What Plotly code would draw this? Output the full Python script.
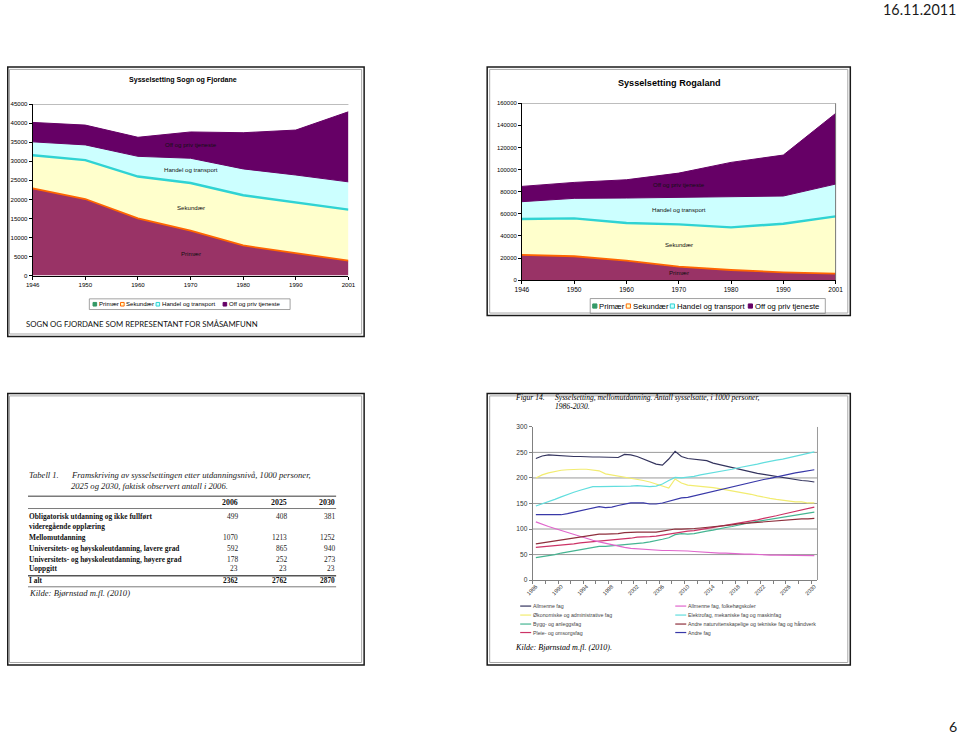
import plotly.graph_objects as go

W, H = 959, 735
# measured mapping of the photographed page: shown = offset + scale * page pixel
SX, OX = 0.984, 7.0
SY, OY = 0.992, 3.0


def fx(p):
    v = ((p - OX) / SX) / W
    return min(max(v, 0.0008), 0.9992)


def fy(p):
    v = 1 - ((p - OY) / SY) / H
    return min(max(v, 0.001), 0.999)


# ---------------- data ----------------
years_sf = ["1946", "1950", "1960", "1970", "1980", "1990", "2001"]

sf_primaer = [22900, 20100, 15000, 11800, 7900, 5900, 3900]
sf_sekundaer = [8700, 10200, 11000, 12500, 13200, 13300, 13400]
sf_handel = [3500, 4000, 5300, 6500, 6900, 7200, 7300]
sf_off = [5100, 5200, 5000, 6900, 9500, 11800, 18400]

ro_primaer = [22900, 21700, 17700, 12300, 9300, 7200, 6000]
ro_sekundaer = [32400, 34200, 34000, 38200, 38500, 43900, 51700]
ro_handel = [15700, 18100, 22600, 24400, 28300, 25000, 29200]
ro_off = [13800, 14400, 16500, 21900, 30400, 37000, 63800]

years_br = [str(y) for y in range(1986, 2031)]
br_allmenne = [238, 243, 245, 244, 243, 243, 242, 242, 241, 241, 241, 241, 240, 240, 246,
               245, 242, 237, 232, 227, 225, 237, 252, 242, 238, 237, 236, 234, 229, 226,
               223, 221, 218, 214, 211, 209, 207, 205, 202, 200, 198, 197, 195, 194, 192]
br_okonomi = [200, 206, 210, 213, 215, 216, 217, 217, 217, 216, 214, 208, 206, 203, 201,
              199, 197, 195, 192, 188, 183, 180, 198, 190, 186, 185, 184, 183, 181, 179,
              177, 175, 173, 170, 168, 165, 162, 160, 158, 156, 155, 153, 153, 151, 151]
br_bygg = [44, 46, 47, 50, 53, 55, 58, 60, 62, 64, 66, 66, 67, 68, 70,
           71, 72, 73, 75, 77, 80, 83, 89, 91, 90, 91, 94, 96, 98, 101,
           103, 105, 108, 110, 113, 115, 117, 119, 121, 123, 125, 127, 129, 131, 133]
br_pleie = [64, 65, 66, 68, 69, 70, 71, 73, 74, 75, 76, 77, 78, 79, 80,
            82, 84, 84, 85, 86, 88, 91, 93, 94, 96, 97, 99, 101, 103, 105,
            107, 109, 111, 114, 116, 118, 121, 123, 126, 129, 132, 134, 138, 140, 143]
br_folkehog = [114, 109, 105, 101, 97, 94, 90, 86, 82, 78, 75, 72, 69, 66, 64,
               62, 61, 60, 59, 58, 58, 58, 58, 57, 57, 56, 55, 55, 54, 53,
               53, 52, 51, 51, 51, 50, 50, 49, 49, 49, 49, 49, 49, 48, 48]
br_elektro = [145, 149, 154, 158, 163, 168, 172, 176, 180, 183, 183, 183, 183, 183, 184,
              184, 185, 184, 183, 184, 188, 195, 201, 200, 201, 203, 206, 208, 210, 212,
              214, 217, 220, 222, 225, 227, 230, 233, 235, 237, 240, 242, 246, 248, 251]
br_naturvit = [71, 73, 75, 77, 79, 81, 83, 85, 86, 88, 90, 90, 90, 91, 93,
               94, 94, 94, 94, 94, 96, 98, 100, 100, 100, 101, 102, 103, 105, 106,
               107, 108, 110, 111, 112, 114, 114, 116, 116, 118, 118, 119, 120, 120, 121]
br_andre = [128, 128, 128, 127, 128, 130, 133, 135, 138, 142, 144, 142, 143, 146, 149,
            151, 151, 151, 149, 149, 151, 154, 158, 161, 162, 165, 168, 171, 173, 177,
            180, 183, 186, 188, 191, 194, 197, 199, 202, 205, 207, 210, 212, 214, 216]

tab_cols = ["2006", "2025", "2030"]
tab_labels = ["Obligatorisk utdanning og ikke fullført<br>videregående opplæring",
              "Mellomutdanning",
              "Universitets- og høyskoleutdanning, lavere grad",
              "Universitets- og høyskoleutdanning, høyere grad",
              "Uoppgitt"]
tab_2006 = [499, 1070, 592, 178, 23]
tab_2025 = [408, 1213, 865, 252, 23]
tab_2030 = [381, 1252, 940, 273, 23]
tab_total = [2362, 2762, 2870]

SANS = "Liberation Sans, Arial, sans-serif"
SERIF = "Liberation Serif, Times New Roman, serif"
LATO = "Lato, Noto Sans, sans-serif"
FS = 1.012  # font compensation for the page scaling

fig = go.Figure()
shapes = []
ann = []


def text(x, y, s, size, family=SANS, color="#000000", xanchor="left", yanchor="middle"):
    ann.append(dict(x=fx(x), y=fy(y), xref="paper", yref="paper", text=s, showarrow=False,
                    font=dict(size=size * FS, family=family, color=color),
                    align=xanchor if xanchor != "center" else "center",
                    xanchor=xanchor, yanchor=yanchor, borderpad=0))


def hline(x0, x1, y, color, width):
    shapes.append(dict(type="line", xref="paper", yref="paper", x0=fx(x0), x1=fx(x1),
                       y0=fy(y), y1=fy(y), line=dict(color=color, width=width)))


def rect(x0, y0, x1, y1, color, width, fill=None):
    d = dict(type="rect", xref="paper", yref="paper", x0=fx(x0), x1=fx(x1),
             y0=fy(y1), y1=fy(y0), line=dict(color=color, width=width))
    if fill is not None:
        d["fillcolor"] = fill
    shapes.append(d)


# ---------------- panel frames ----------------
for (x0, y0, x1, y1) in [(2, 66, 364, 336), (487, 66, 850, 315),
                         (2, 393, 364, 665), (487, 393, 850, 665)]:
    rect(x0, y0, x1, y1, "#1a1a1a", 1.5)
    rect(max(x0 + 2.5, 9.5), y0 + 2.5, x1 - 2.5, y1 - 2.5, "#a8a8a8", 1)

# ---------------- stacked area charts ----------------
FILL_P, FILL_S, FILL_H, FILL_O = "#993366", "#FFFFCC", "#CCFFFF", "#660066"
LINE_ORANGE, LINE_CYAN = "#FF6600", "#2FD3D3"


def add_stack(series, group, xa, ya):
    for name, vals, fill, lc, lw in series:
        fig.add_trace(go.Scatter(x=years_sf, y=vals, name=name, stackgroup=group, mode="lines",
                                 fillcolor=fill, line=dict(color=lc, width=lw),
                                 xaxis=xa, yaxis=ya, showlegend=False, hoverinfo="skip"))


add_stack([("Primær", sf_primaer, FILL_P, LINE_ORANGE, 1.8),
           ("Sekundær", sf_sekundaer, FILL_S, LINE_CYAN, 2.4),
           ("Handel og transport", sf_handel, FILL_H, FILL_O, 1),
           ("Off og priv tjeneste", sf_off, FILL_O, FILL_O, 1)], "sf", "x", "y")
add_stack([("Primær", ro_primaer, FILL_P, LINE_ORANGE, 1.8),
           ("Sekundær", ro_sekundaer, FILL_S, LINE_CYAN, 2.4),
           ("Handel og transport", ro_handel, FILL_H, FILL_O, 1),
           ("Off og priv tjeneste", ro_off, FILL_O, FILL_O, 1)], "ro", "x2", "y2")

# ---------------- line chart ----------------
br_series = [
    ("Allmenne fag", br_allmenne, "#34345E"),
    ("Økonomiske og administrative fag", br_okonomi, "#F2EC70"),
    ("Bygg- og anleggsfag", br_bygg, "#45B592"),
    ("Pleie- og omsorgsfag", br_pleie, "#CC3366"),
    ("Allmenne fag, folkehøgskoler", br_folkehog, "#E066CC"),
    ("Elektrofag, mekaniske fag og maskinfag", br_elektro, "#62DEDE"),
    ("Andre naturvitenskapelige og tekniske fag og håndverk", br_naturvit, "#8E2F3C"),
    ("Andre fag", br_andre, "#3838A8"),
]
for name, vals, col in br_series:
    fig.add_trace(go.Scatter(x=years_br, y=vals, name=name, mode="lines",
                             line=dict(color=col, width=1.2), xaxis="x3", yaxis="y3",
                             showlegend=False, hoverinfo="skip"))

for v in [50, 100, 150, 200, 250]:
    shapes.append(dict(type="line", xref="x3 domain", yref="y3", x0=0, x1=1, y0=v, y1=v,
                       line=dict(color="#9a9a9a", width=1), layer="below"))
shapes.append(dict(type="line", xref="x3 domain", yref="y3", x0=1, x1=1, y0=0, y1=300,
                   line=dict(color="#9a9a9a", width=1)))
shapes.append(dict(type="line", xref="x domain", yref="y", x0=0, x1=1, y0=45000, y1=45000,
                   line=dict(color="#555555", width=0.8)))
shapes.append(dict(type="line", xref="x2 domain", yref="y2", x0=0, x1=1, y0=160000, y1=160000,
                   line=dict(color="#555555", width=0.8)))
shapes.append(dict(type="line", xref="x2 domain", yref="y2", x0=1, x1=1, y0=0, y1=160000,
                   line=dict(color="#555555", width=0.8)))

# ---------------- axes ----------------
tick_small = dict(size=6.1, family=SANS, color="#000000")
common_x = dict(type="category", showline=True, linecolor="#000000", linewidth=1, ticks="outside",
                ticklen=3, tickcolor="#000000", showgrid=False, zeroline=False, fixedrange=True)
common_y = dict(showline=True, linecolor="#000000", linewidth=1, ticks="outside", ticklen=3,
                tickcolor="#000000", showgrid=False, zeroline=False, tickformat="d", fixedrange=True)

fig.update_layout(
    xaxis=dict(common_x, domain=[fx(32.7), fx(348.3)], range=[0, 6], anchor="y", tickfont=tick_small),
    yaxis=dict(common_y, domain=[fy(275), fy(103.3)], range=[0, 45000], dtick=5000, anchor="x",
               tickfont=tick_small),
    xaxis2=dict(common_x, domain=[fx(521.7), fx(835.3)], range=[0, 6], anchor="y2",
                tickfont=dict(size=6.6, family=SANS, color="#000000")),
    yaxis2=dict(common_y, domain=[fy(279.7), fy(102.3)], range=[0, 160000], dtick=20000, anchor="x2",
                tickfont=dict(size=5.9, family=SANS, color="#000000")),
    xaxis3=dict(common_x, domain=[fx(532.5), fx(817.2)], range=[-0.5, 44.5], anchor="y3",
                linecolor="#808080", tickcolor="#808080", tickson="boundaries", ticklabelstep=2,
                tickangle=-45, tickfont=dict(size=5.6, family=SANS, color="#333333")),
    yaxis3=dict(common_y, domain=[fy(580), fy(426.5)], range=[0, 300], dtick=50, anchor="x3",
                linecolor="#808080", tickcolor="#808080",
                tickfont=dict(size=6.6, family=SANS, color="#333333")),
)

# area labels (category index 3 = 1970)
for lab, yv in [("Off og priv tjeneste", 34300), ("Handel og transport", 27800),
                ("Sekundær", 17900), ("Primær", 5900)]:
    ann.append(dict(x=3, y=yv, xref="x", yref="y", text=lab, showarrow=False,
                    font=dict(size=6.1, family=SANS, color="#111111")))
for lab, yv in [("Off og priv tjeneste", 86300), ("Handel og transport", 63500),
                ("Sekundær", 32200), ("Primær", 6600)]:
    ann.append(dict(x=3, y=yv, xref="x2", yref="y2", text=lab, showarrow=False,
                    font=dict(size=6.1, family=SANS, color="#111111")))

text(183, 79, "<b>Sysselsetting Sogn og Fjordane</b>", 7, xanchor="center")
text(669.7, 81.7, "<b>Sysselsetting Rogaland</b>", 9, xanchor="center")


def swatch_legend(items, y, size, sw):
    for xs, label, fill, border in items:
        rect(xs, y - sw / 2, xs + sw, y + sw / 2, border, 1, fill)
        text(xs + sw + 1.2, y, label, size)


leg_names = ["Primær", "Sekundær", "Handel og transport", "Off og priv tjeneste"]
leg_fill = ["#339966", FILL_S, FILL_H, FILL_O]
leg_border = ["#339966", LINE_ORANGE, LINE_CYAN, FILL_O]

rect(89.3, 298.3, 290, 309, "#8a8a8a", 0.8)
swatch_legend(list(zip([93, 120.5, 156, 223], leg_names, leg_fill, leg_border)), 303.7, 6, 3.6)

rect(590, 298, 825, 313, "#8a8a8a", 0.8)
swatch_legend(list(zip([592.5, 626, 670, 748], leg_names, leg_fill, leg_border)), 305.5, 7.6, 4.2)

col_x = [(520, 532), (675, 687)]
row_y = [606, 615, 624, 632.5]
order = [[0, 1, 2, 3], [4, 5, 6, 7]]
for c, idxs in enumerate(order):
    lx, tx = col_x[c]
    for r, i in enumerate(idxs):
        name, _, col = br_series[i]
        hline(lx, lx + 11, row_y[r], col, 1.2)
        text(tx, row_y[r], name, 5.2, color="#444444")

text(513.7, 397, "<i>Figur 14.</i>", 7.5, family=SERIF)
text(553.7, 397, "<i>Sysselsetting, mellomutdanning. Antall sysselsatte, i 1000 personer,</i>", 7.5,
     family=SERIF)
text(553.7, 406, "<i>1986-2030.</i>", 7.5, family=SERIF)
text(513.7, 647, "<i>Kilde: Bjørnstad m.fl. (2010).</i>", 8, family=SERIF)

# ---------------- table ----------------
text(28, 475, "<i>Tabell 1.</i>", 8.5, family=SERIF, color="#222222")
text(70, 475, "<i>Framskriving av sysselsettingen etter utdanningsnivå, 1000 personer,</i>", 8.5,
     family=SERIF, color="#222222")
text(70, 485.7, "<i>2025 og 2030, faktisk observert antall i 2006.</i>", 8.5, family=SERIF,
     color="#222222")

col_right = [239, 288, 336]
for cx, cname in zip(col_right, tab_cols):
    text(cx, 502.7, "<b>" + cname + "</b>", 7.8, family=SERIF, color="#111111", xanchor="right")

row_centers = [520.9, 537.3, 548.3, 559, 568.3]
row_value_y = [516.7, 537.3, 548.3, 559, 568.3]
for i, lab in enumerate(tab_labels):
    text(28, row_centers[i], "<b>" + lab + "</b>", 7.3, family=SERIF, color="#111111")
    for cx, vals in zip(col_right, [tab_2006, tab_2025, tab_2030]):
        text(cx, row_value_y[i], str(vals[i]), 7.3, family=SERIF, color="#222222", xanchor="right")
text(28, 580.7, "<b>I alt</b>", 7.3, family=SERIF, color="#111111")
for cx, v in zip(col_right, tab_total):
    text(cx, 580.7, "<b>" + str(v) + "</b>", 7.3, family=SERIF, color="#111111", xanchor="right")

hline(28, 336, 496, "#7a7a7a", 1.3)
hline(28, 336, 508.3, "#7a7a7a", 1)
hline(28, 336, 575.7, "#555555", 1.5)
hline(28, 336, 586.7, "#7a7a7a", 1)
text(28, 592.7, "<i>Kilde: Bjørnstad m.fl. (2010)</i>", 8.5, family=SERIF, color="#222222")

# ---------------- slide texts ----------------
text(25, 323, "SOGN OG FJORDANE SOM REPRESENTANT FOR SMÅSAMFUNN", 7.7, family=LATO, color="#111111")
text(882, 9, "16.11.2011", 14.2, family=LATO, color="#1a1a1a")
text(948, 727, "6", 14, family=LATO, color="#1a1a1a")

fig.update_layout(
    margin=dict(l=0, r=0, t=0, b=0),
    paper_bgcolor="#ffffff", plot_bgcolor="rgba(0,0,0,0)",
    font=dict(family=SANS),
    shapes=shapes, annotations=ann, showlegend=False,
)

fig.write_html("out.html", config={"displayModeBar": False, "responsive": False},
               default_width="959px", default_height="735px; position:fixed; left:0; top:0")
